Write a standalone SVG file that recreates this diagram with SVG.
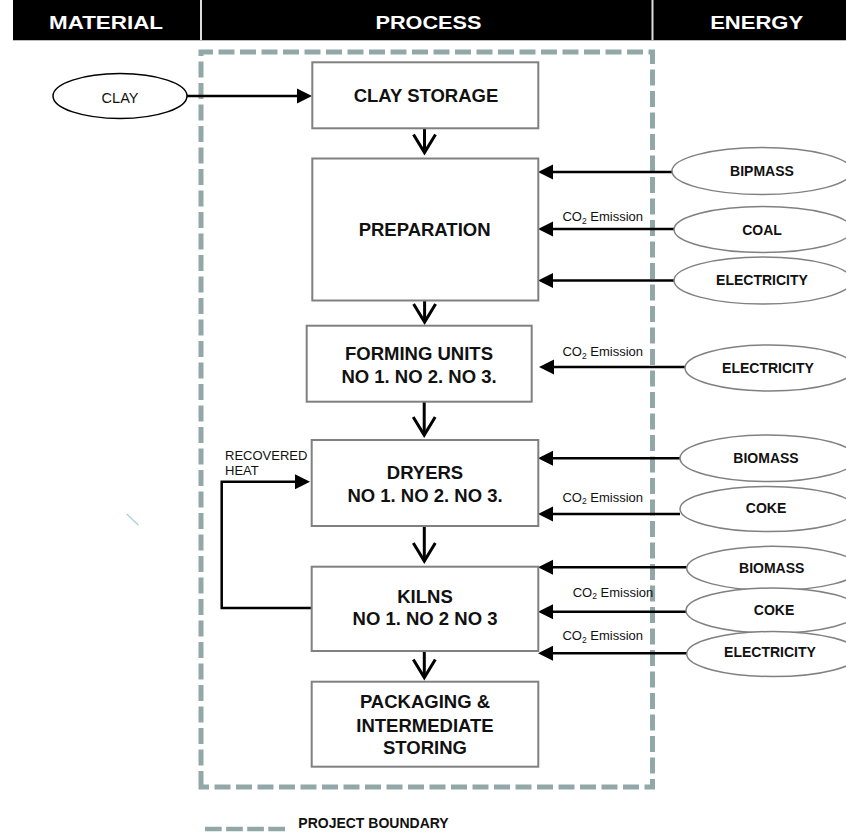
<svg xmlns="http://www.w3.org/2000/svg" width="846" height="837" viewBox="0 0 846 837">
<style>
.box{fill:#fff;stroke:#808080;stroke-width:2}
.el{fill:#fff;stroke:#808080;stroke-width:1.5}
.t{font-family:"Liberation Sans",Arial,sans-serif;fill:#111}
.bt{font-weight:bold;font-size:18.5px;text-anchor:middle}
.et{font-weight:bold;font-size:14px;text-anchor:middle}
.co{font-size:13px;text-anchor:end}
.ht{font-family:"Liberation Sans",Arial,sans-serif;font-weight:bold;font-size:19px;fill:#fff;text-anchor:middle}
.ln{stroke:#000;stroke-width:2.5;fill:none}
.dn{stroke:#000;stroke-width:3;fill:none}
.bnd{fill:none;stroke:#91a7a8;stroke-width:5;stroke-dasharray:16 5.5}
</style>
<defs>
<marker id="ah" markerUnits="userSpaceOnUse" orient="auto" refX="0" refY="0" markerWidth="20" markerHeight="20" overflow="visible">
<path d="M12,0 L-3,-7.5 L-3,7.5 Z" fill="#000"/>
</marker>
<marker id="vh" markerUnits="userSpaceOnUse" orient="auto" refX="0" refY="0" markerWidth="30" markerHeight="30" overflow="visible">
<path d="M-18,-11 L0,0 L-18,11" fill="none" stroke="#000" stroke-width="3"/>
</marker>
</defs>

<g id="header">
<rect x="13" y="0" width="833" height="40" fill="#000"/>
<line x1="13" y1="40.5" x2="846" y2="40.5" stroke="#bbb" stroke-width="1"/>
<line x1="201" y1="0" x2="201" y2="40" stroke="#ddd" stroke-width="2"/>
<line x1="652.5" y1="0" x2="652.5" y2="40" stroke="#ddd" stroke-width="2"/>
<text class="ht" x="106" y="28.5" textLength="114" lengthAdjust="spacingAndGlyphs">MATERIAL</text>
<text class="ht" x="428.5" y="28.5" textLength="106" lengthAdjust="spacingAndGlyphs">PROCESS</text>
<text class="ht" x="756.7" y="28.5" textLength="93" lengthAdjust="spacingAndGlyphs">ENERGY</text>
</g>

<g id="boundary">
<path class="bnd" d="M201,787 V52 H652.5 V787 Z"/>
</g>

<g id="stray">
<line x1="126.7" y1="514" x2="138.3" y2="525" stroke="#a8d6dc" stroke-width="1.5"/>
</g>

<g id="connectors">
<line class="ln" x1="187" y1="96" x2="300" y2="96" marker-end="url(#ah)"/>
<line class="ln" x1="673" y1="172" x2="550" y2="172" marker-end="url(#ah)"/>
<line class="ln" x1="674" y1="229" x2="550" y2="229" marker-end="url(#ah)"/>
<line class="ln" x1="674" y1="280.5" x2="550" y2="280.5" marker-end="url(#ah)"/>
<line class="ln" x1="685" y1="367" x2="551" y2="367" marker-end="url(#ah)"/>
<line class="ln" x1="680" y1="458.3" x2="550" y2="458.3" marker-end="url(#ah)"/>
<line class="ln" x1="680" y1="514" x2="550" y2="514" marker-end="url(#ah)"/>
<line class="ln" x1="687" y1="567.3" x2="550" y2="567.3" marker-end="url(#ah)"/>
<line class="ln" x1="687" y1="611.7" x2="550" y2="611.7" marker-end="url(#ah)"/>
<line class="ln" x1="687" y1="653.3" x2="550" y2="653.3" marker-end="url(#ah)"/>
<path class="ln" d="M312,608 H221.7 V481.7 H298" marker-end="url(#ah)"/>
<line class="dn" x1="424.5" y1="128.3" x2="424.5" y2="152.5" marker-end="url(#vh)"/>
<line class="dn" x1="424.6" y1="300.6" x2="424.6" y2="322" marker-end="url(#vh)"/>
<line class="dn" x1="424.2" y1="402" x2="424.2" y2="435" marker-end="url(#vh)"/>
<line class="dn" x1="424.3" y1="526" x2="424.3" y2="561" marker-end="url(#vh)"/>
<line class="dn" x1="424.3" y1="651" x2="424.3" y2="677.5" marker-end="url(#vh)"/>
<text class="t" font-size="13" x="225" y="460">RECOVERED</text>
<text class="t" font-size="13" x="225" y="475">HEAT</text>
<text class="t co" x="643" y="221">CO<tspan font-size="8.5" dy="2.5">2</tspan><tspan dy="-2.5"> Emission</tspan></text>
<text class="t co" x="643" y="356">CO<tspan font-size="8.5" dy="2.5">2</tspan><tspan dy="-2.5"> Emission</tspan></text>
<text class="t co" x="643" y="501.7">CO<tspan font-size="8.5" dy="2.5">2</tspan><tspan dy="-2.5"> Emission</tspan></text>
<text class="t co" x="653.3" y="596.7">CO<tspan font-size="8.5" dy="2.5">2</tspan><tspan dy="-2.5"> Emission</tspan></text>
<text class="t co" x="643" y="640">CO<tspan font-size="8.5" dy="2.5">2</tspan><tspan dy="-2.5"> Emission</tspan></text>
</g>

<g id="clay">
<ellipse cx="120" cy="96" rx="67" ry="22.5" fill="#fff" stroke="#000" stroke-width="1.5"/>
<text class="t" font-size="14.5" text-anchor="middle" x="120" y="102.5">CLAY</text>
</g>

<g id="clay-storage">
<rect class="box" x="312.3" y="62.3" width="226" height="66"/>
<text class="t bt" x="426" y="102.3">CLAY STORAGE</text>
</g>

<g id="preparation">
<rect class="box" x="312.3" y="158.5" width="226" height="142"/>
<text class="t bt" x="424.6" y="236.2">PREPARATION</text>
</g>

<g id="forming">
<rect class="box" x="306.7" y="325.7" width="225" height="76"/>
<text class="t bt" x="419" y="360">FORMING UNITS</text>
<text class="t bt" x="419" y="382.7">NO 1. NO 2. NO 3.</text>
</g>

<g id="dryers">
<rect class="box" x="311.7" y="440" width="226.6" height="86"/>
<text class="t bt" x="425" y="479">DRYERS</text>
<text class="t bt" x="425" y="502">NO 1. NO 2. NO 3.</text>
</g>

<g id="kilns">
<rect class="box" x="311.7" y="566.7" width="226.6" height="84.3"/>
<text class="t bt" x="425" y="603.3">KILNS</text>
<text class="t bt" x="425" y="624.5">NO 1. NO 2 NO 3</text>
</g>

<g id="packaging">
<rect class="box" x="311.7" y="681.7" width="226.6" height="85"/>
<text class="t bt" x="425" y="708.3">PACKAGING &amp;</text>
<text class="t bt" x="425" y="731.7">INTERMEDIATE</text>
<text class="t bt" x="425" y="754">STORING</text>
</g>

<g id="e-bipmass">
<ellipse class="el" cx="762" cy="171" rx="90" ry="23.5"/>
<text class="t et" x="762" y="175.5">BIPMASS</text>
</g>
<g id="e-coal">
<ellipse class="el" cx="763" cy="229.5" rx="89" ry="23"/>
<text class="t et" x="762" y="234.5">COAL</text>
</g>
<g id="e-elec1">
<ellipse class="el" cx="763" cy="280.5" rx="89" ry="23.5"/>
<text class="t et" x="762" y="285">ELECTRICITY</text>
</g>
<g id="e-elec2">
<ellipse class="el" cx="770" cy="368" rx="85" ry="23"/>
<text class="t et" x="768" y="373">ELECTRICITY</text>
</g>
<g id="e-biomass1">
<ellipse class="el" cx="768" cy="458.3" rx="88" ry="23.3"/>
<text class="t et" x="766" y="463.3">BIOMASS</text>
</g>
<g id="e-coke1">
<ellipse class="el" cx="768" cy="509" rx="88" ry="22.5"/>
<text class="t et" x="766" y="512.7">COKE</text>
</g>
<g id="e-biomass2">
<ellipse class="el" cx="773" cy="568.3" rx="86.3" ry="22"/>
<text class="t et" x="771.7" y="573.3">BIOMASS</text>
</g>
<g id="e-coke2">
<ellipse class="el" cx="773" cy="610.5" rx="87" ry="22.5"/>
<text class="t et" x="774" y="615">COKE</text>
</g>
<g id="e-elec3">
<ellipse class="el" cx="773" cy="654" rx="86.3" ry="22.5"/>
<text class="t et" x="770" y="657.3">ELECTRICITY</text>
</g>

<g id="legend">
<line x1="205" y1="829" x2="285" y2="829" stroke="#91a7a8" stroke-width="4.5" stroke-dasharray="16.7 4.4"/>
<text class="t" font-weight="bold" font-size="14" x="298.3" y="828.3">PROJECT BOUNDARY</text>
</g>
</svg>
